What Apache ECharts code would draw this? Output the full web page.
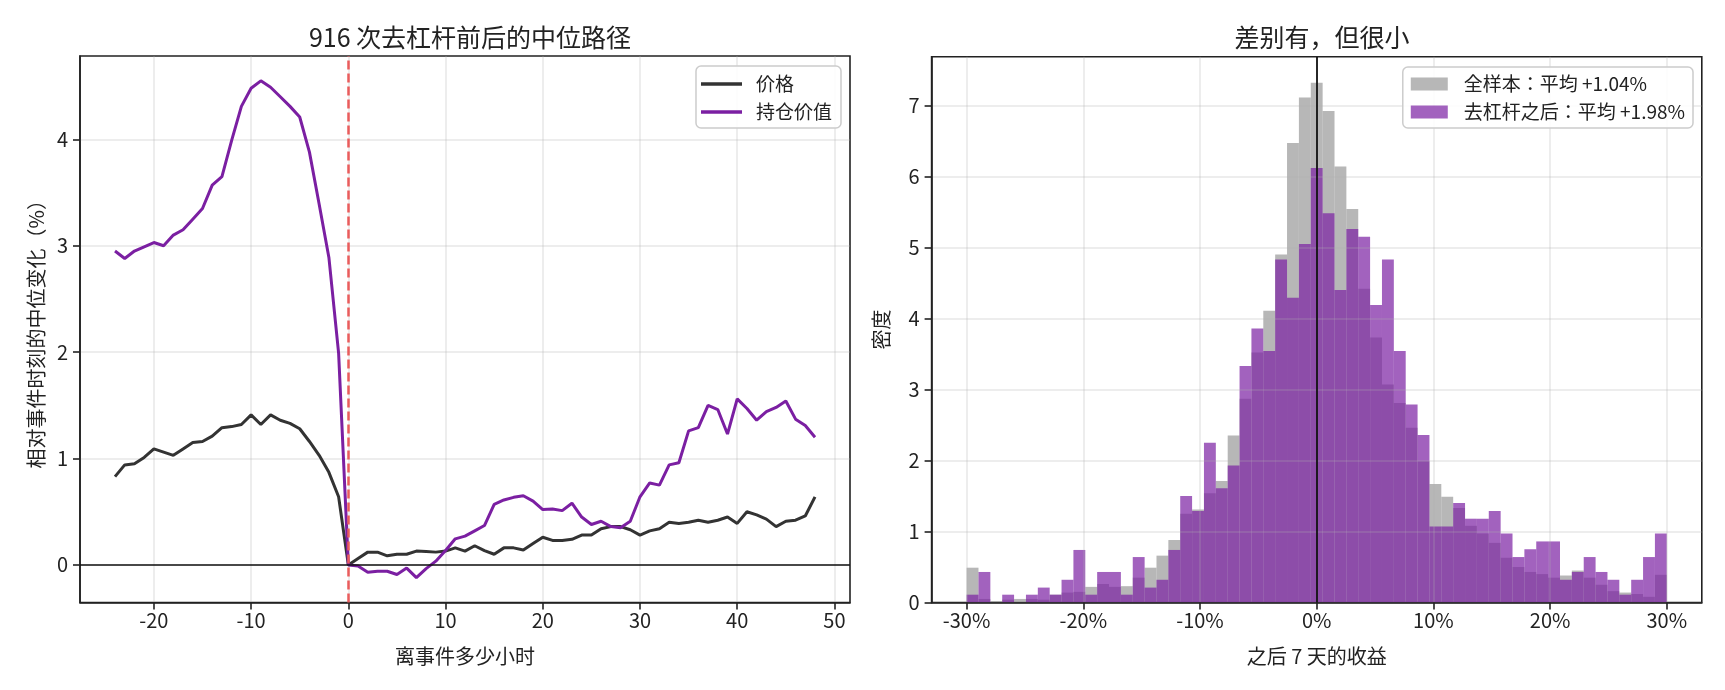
<!DOCTYPE html>
<html><head><meta charset="utf-8">
<script src="https://cdn.jsdelivr.net/npm/echarts@6/dist/echarts.min.js"></script>
<style>html,body{margin:0;padding:0;background:#fff}#c{width:1725px;height:690px}</style>
</head><body><div id="c"></div>
<script>
// ---- left panel data ----
const hours = [-24,-23,-22,-21,-20,-19,-18,-17,-16,-15,-14,-13,-12,-11,-10,-9,-8,-7,-6,-5,-4,-3,-2,-1,
  0,1,2,3,4,5,6,7,8,9,10,11,12,13,14,15,16,17,18,19,20,21,22,23,24,25,26,27,28,29,30,31,32,33,34,35,36,37,38,39,40,41,42,43,44,45,46,47,48];
const priceMedian = [0.83,0.94,0.95,1.01,1.09,1.06,1.03,1.09,1.15,1.16,1.21,1.29,1.30,1.32,1.41,1.32,1.41,1.36,1.33,1.28,1.16,1.03,0.87,0.64,
  0.00,0.06,0.12,0.12,0.085,0.10,0.10,0.13,0.125,0.12,0.13,0.16,0.13,0.18,0.135,0.10,0.16,0.16,0.14,0.20,0.26,0.23,0.23,0.24,0.28,0.28,0.34,0.36,0.36,0.33,0.28,0.32,0.34,0.40,0.39,0.40,0.42,0.40,0.42,0.45,0.39,0.50,0.47,0.43,0.36,0.41,0.42,0.46,0.64];
const holdingMedian = [2.95,2.88,2.95,2.99,3.03,3.00,3.10,3.15,3.25,3.35,3.57,3.65,3.99,4.31,4.48,4.55,4.49,4.40,4.31,4.21,3.88,3.39,2.89,1.99,
  0.00,-0.01,-0.07,-0.06,-0.06,-0.09,-0.03,-0.12,-0.035,0.035,0.135,0.245,0.27,0.32,0.37,0.57,0.61,0.635,0.65,0.60,0.52,0.525,0.51,0.58,0.45,0.38,0.41,0.36,0.35,0.41,0.64,0.77,0.75,0.94,0.96,1.26,1.29,1.50,1.46,1.23,1.56,1.47,1.36,1.44,1.48,1.54,1.37,1.31,1.20];
const leftXTicks = [-20,-10,0,10,20,30,40,50];
const leftYTicks = [0,1,2,3,4];

// ---- right panel data ----
const binLo = -30, binHi = 30, binCount = 59;
const densityAll = [0.49,0.05,0.02,0.04,0.05,0.05,0.04,0.11,0.14,0.15,0.22,0.26,0.22,0.23,0.35,0.49,0.66,0.88,1.25,1.31,
  1.54,1.71,2.35,2.87,3.52,4.11,4.90,6.47,7.11,7.32,6.92,6.14,5.54,4.42,3.73,3.07,2.81,2.46,1.99,1.67,
  1.49,1.33,1.08,0.97,0.84,0.63,0.50,0.43,0.40,0.35,0.38,0.45,0.35,0.25,0.16,0.14,0.12,0.08,0.39];
const densityDelev = [0.11,0.43,0,0.11,0,0.11,0.21,0.11,0.32,0.74,0.11,0.43,0.43,0.11,0.64,0.21,0.32,0.74,1.50,1.29,
  2.25,1.61,1.93,3.33,3.86,3.54,4.83,4.29,5.05,6.12,5.48,4.40,5.26,5.15,4.19,4.83,3.54,2.79,2.36,1.07,
  1.07,1.40,1.18,1.18,1.29,0.97,0.64,0.75,0.86,0.86,0.32,0.43,0.64,0.43,0.32,0.11,0.32,0.64,0.97];
const rightXTicks = [-30,-20,-10,0,10,20,30];
const rightYTicks = [0,1,2,3,4,5,6,7];

const FONT = 'Noto Sans CJK JP';
const TXT = '#222';
const binW = (binHi - binLo) / binCount;
function histData(vals){ return vals.map((v,i)=>[binLo + i*binW, binLo + (i+1)*binW, v]); }
function renderBin(params, api){
  const a = api.coord([api.value(0), api.value(2)]);
  const b = api.coord([api.value(1), 0]);
  return {type:'rect', shape:{x:a[0], y:a[1], width:b[0]-a[0], height:b[1]-a[1]}, style:{fill: api.visual('color')}};
}
const gridLine = {show:true, lineStyle:{color:'rgba(176,176,176,0.3)', width:1.5}};
function axisCommon(ticks, fmt, margin){
  return {
    axisLine:{show:true, onZero:false, lineStyle:{color:'#222', width:1.6}},
    axisTick:{show:true, length:7, lineStyle:{color:'#222', width:1.6}, customValues: ticks},
    axisLabel:{customValues: ticks, fontSize:20, color:TXT, fontFamily:FONT, margin:margin, formatter: fmt},
    splitLine: gridLine,
    nameTextStyle:{fontSize:20, color:TXT, fontFamily:FONT}
  };
}
const pxy = hours.map((h,i)=>[h, priceMedian[i]]);
const hxy = hours.map((h,i)=>[h, holdingMedian[i]]);

const chart = echarts.init(document.getElementById('c'), null, {renderer:'canvas'});
chart.setOption({
  animation:false,
  backgroundColor:'#fff',
  textStyle:{fontFamily:FONT, color:TXT},
  title:[
    {text:'916 次去杠杆前后的中位路径', left:465, top:20, textAlign:'center', textStyle:{fontSize:25, fontWeight:'normal', color:TXT, fontFamily:FONT}},
    {text:'差别有，但很小', left:1317, top:20, textAlign:'center', textStyle:{fontSize:25, fontWeight:'normal', color:TXT, fontFamily:FONT}}
  ],
  grid:[
    {left:80, top:56, width:770, height:546.5, show:true, borderColor:'#222', borderWidth:1.6, backgroundColor:'transparent'},
    {left:931.6, top:56.7, width:770.2, height:545.8, show:true, borderColor:'#222', borderWidth:1.6, backgroundColor:'transparent'}
  ],
  xAxis:[
    Object.assign(axisCommon(leftXTicks, v=>String(v), 8), {type:'value', gridIndex:0, min:-27.6, max:51.6, name:'离事件多少小时', nameLocation:'middle', nameGap:44}),
    Object.assign(axisCommon(rightXTicks, v=>v+'%', 8), {type:'value', gridIndex:1, min:-33, max:33, z:3, name:'之后 7 天的收益', nameLocation:'middle', nameGap:44})
  ],
  yAxis:[
    Object.assign(axisCommon(leftYTicks, v=>String(v), 12), {type:'value', gridIndex:0, min:-0.3535, max:4.7835, name:'相对事件时刻的中位变化（%）', nameLocation:'middle', nameRotate:90, nameGap:34}),
    Object.assign(axisCommon(rightYTicks, v=>String(v), 12), {type:'value', gridIndex:1, min:0, max:7.686, z:3, name:'密度', nameLocation:'middle', nameRotate:90, nameGap:40})
  ],
  legend:[
    {data:['价格','持仓价值'], orient:'vertical', right:884, top:66, icon:'rect', itemWidth:41, itemHeight:3.5, itemGap:6,
     padding:[7,9,5,5], borderColor:'#cccccc', borderWidth:1.5, borderRadius:5, backgroundColor:'rgba(255,255,255,0.85)',
     textStyle:{fontSize:19, lineHeight:22, color:TXT, fontFamily:FONT, padding:[0,0,0,9]}},
    {data:['全样本：平均 +1.04%','去杠杆之后：平均 +1.98%'], orient:'vertical', right:32, top:67, icon:'rect', itemWidth:37, itemHeight:13, itemGap:6,
     padding:[6,8,5,8], borderColor:'#cccccc', borderWidth:1.5, borderRadius:5, backgroundColor:'rgba(255,255,255,0.85)',
     textStyle:{fontSize:19, lineHeight:22, color:TXT, fontFamily:FONT, padding:[0,0,0,11]}}
  ],
  series:[
    {name:'价格', type:'line', xAxisIndex:0, yAxisIndex:0, data:pxy, showSymbol:false, symbol:'none', color:'#333333',
     lineStyle:{color:'#333333', width:3}, z:2},
    {name:'持仓价值', type:'line', xAxisIndex:0, yAxisIndex:0, data:hxy, showSymbol:false, symbol:'none', color:'#7b1fa2',
     lineStyle:{color:'#7b1fa2', width:3}, z:2,
     markLine:{silent:true, symbol:'none', label:{show:false}, animation:false, z:5,
       data:[
         {yAxis:0, lineStyle:{color:'#111', width:1.6, type:'solid'}},
         {xAxis:0, lineStyle:{color:'#ea5c5c', width:2.5, type:[9,4]}}
       ]}},
    {name:'全样本：平均 +1.04%', type:'custom', xAxisIndex:1, yAxisIndex:1, data:histData(densityAll), renderItem:renderBin,
     encode:{x:[0,1], y:2}, itemStyle:{color:'rgba(153,153,153,0.7)'}, z:2},
    {name:'去杠杆之后：平均 +1.98%', type:'custom', xAxisIndex:1, yAxisIndex:1, data:histData(densityDelev), renderItem:renderBin,
     encode:{x:[0,1], y:2}, itemStyle:{color:'rgba(123,31,162,0.7)'}, z:2,
     markLine:{silent:true, symbol:'none', label:{show:false}, animation:false, z:5,
       data:[{xAxis:0, lineStyle:{color:'#111', width:1.8, type:'solid'}}]}}
  ]
});
</script></body></html>
